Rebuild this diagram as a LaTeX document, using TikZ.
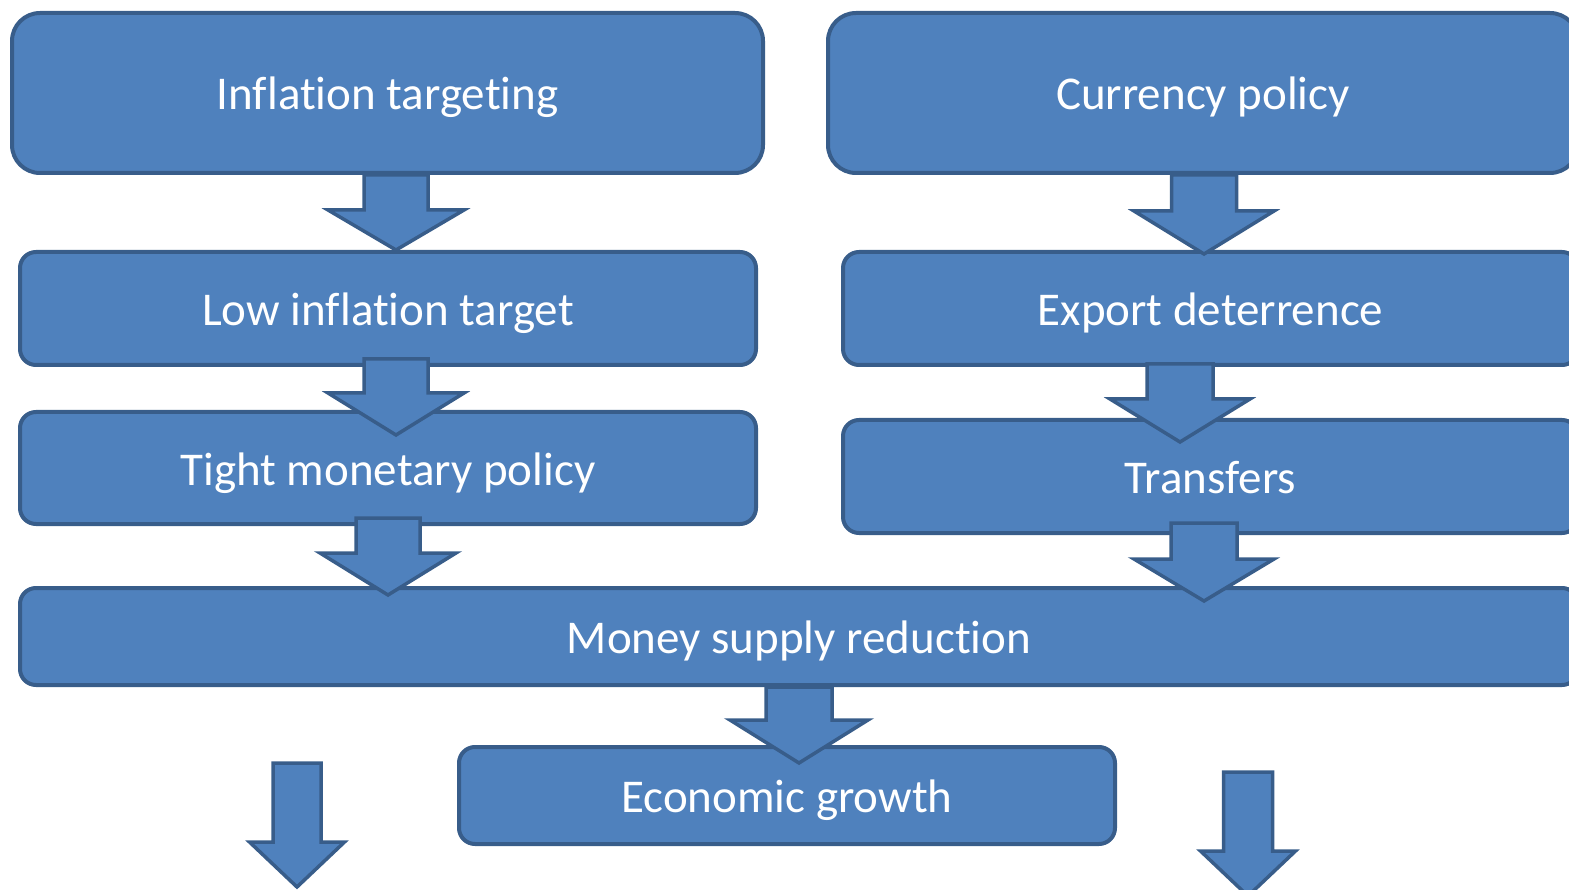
\documentclass[tikz,border=0pt]{standalone}
\usepackage{fontspec}
\setmainfont[Ligatures=NoCommon]{Carlito}
\usepackage{tikz}
\usetikzlibrary{calc}

\definecolor{boxfill}{HTML}{4F81BD}
\definecolor{boxline}{HTML}{385D8A}

% block arrow: start, end, shaft half width, head half width, head length
\newcommand{\blockarrow}[5]{%
  \draw[blockarr] let \p1=#1, \p2=#2 in
    (\x1-#3pt,\y1) -- (\x1+#3pt,\y1) -- (\x1+#3pt,\y2+#5pt) -- (\x1+#4pt,\y2+#5pt)
    -- (\x1,\y2) -- (\x1-#4pt,\y2+#5pt) -- (\x1-#3pt,\y2+#5pt) -- cycle;}

\begin{document}
\begin{tikzpicture}[
        x=1pt, y=-1pt,
        box/.style={rectangle, draw=boxline, fill=boxfill, line width=4pt, rounded corners=16pt,
            text=white, font=\fontsize{47}{56}\selectfont, inner sep=0pt,
            text height=36pt, text depth=2pt},
        bigbox/.style={box, rounded corners=28pt},
        blockarr/.style={draw=boxline, fill=boxfill, line width=3.5pt, line join=miter}
    ]
        \useasboundingbox (0,0) rectangle (1569,890);
        \clip (0,0) rectangle (1569,890);

        \node[bigbox, minimum width=751pt, minimum height=160pt] (infl) at (387.5,93) {Inflation targeting};
        \node[bigbox, minimum width=750pt, minimum height=160pt] (curr) at (1203,93) {Currency policy};
        \node[box, minimum width=736pt, minimum height=113pt] (low) at (388,308.5) {Low inflation target};
        \node[box, minimum width=735pt, minimum height=113pt] (exp) at (1210.5,308.5) {Export deterrence};
        \node[box, minimum width=736pt, minimum height=112pt] (tight) at (388,468) {Tight monetary policy};
        \node[box, minimum width=735pt, minimum height=113pt] (trans) at (1210.5,476.5) {Transfers};
        \node[box, minimum width=1558pt, minimum height=97pt] (money) at (799,636.5) {Money supply reduction};
        \node[box, minimum width=656pt, minimum height=97pt] (econ) at (787,795.5) {Economic growth};

        % free arrows at the bottom
        \coordinate (ltop) at (297,763);
        \coordinate (ltip) at (297,887);
        \coordinate (rtop) at (1248,772);
        \coordinate (rtip) at (1248,896);

        % block arrows
        \blockarrow{($(infl.south)+(8.5,0)$)}{(low.north)}{32}{68}{40}
        \blockarrow{($(curr.south)+(1,0)$)}{($(exp.north)+(0,4)$)}{32.5}{70}{43}
        \blockarrow{($(low.south)+(8,-8)$)}{($(tight.north)+(0,25)$)}{32}{68}{42}
        \blockarrow{($(exp.south)+(-30.5,-3)$)}{($(trans.north)+(0,24)$)}{33}{70}{43}
        \blockarrow{($(tight.south)+(0,-8)$)}{($(money.north)+(0,9)$)}{32}{68}{42}
        \blockarrow{($(trans.south)+(-6.5,-12)$)}{($(money.north)+(0,15)$)}{33}{70}{42}
        \blockarrow{(money.south)}{($(econ.north)+(0,18)$)}{33}{69}{43}
        \blockarrow{(ltop)}{(ltip)}{24}{47.5}{45}
        \blockarrow{(rtop)}{(rtip)}{24.5}{47.5}{45}

    \end{tikzpicture}
\end{document}
